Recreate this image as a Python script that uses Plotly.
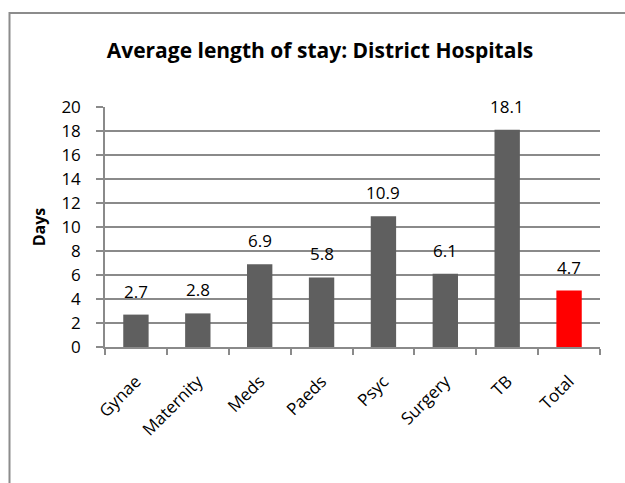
import plotly.graph_objects as go

# Average length of stay per ward (days)
wards = ["Gynae", "Maternity", "Meds", "Paeds", "Psyc", "Surgery", "TB", "Total"]
avg_stay_days = [2.7, 2.8, 6.9, 5.8, 10.9, 6.1, 18.1, 4.7]
bar_colors = ["#5f5f5f"] * 7 + ["#ff0000"]
y_ticks = list(range(0, 21, 2))

FONT = "Open Sans"
GRID = "#8a8a8a"

fig = go.Figure(
    go.Bar(
        x=wards,
        y=avg_stay_days,
        marker=dict(color=bar_colors, line=dict(width=0)),
        width=0.41,
        hoverinfo="x+y",
    )
)

# value labels above each bar
for ward, v in zip(wards, avg_stay_days):
    fig.add_annotation(
        x=ward,
        y=v,
        text=f"{v:.1f}",
        showarrow=False,
        xanchor="center",
        yanchor="bottom",
        yshift=10,
        font=dict(family=FONT, size=17, color="#000000"),
    )

fig.update_layout(
    width=625,
    height=483,
    margin=dict(l=105, r=25, t=107, b=136),
    paper_bgcolor="white",
    plot_bgcolor="white",
    showlegend=False,
    font=dict(family=FONT, size=17, color="#000000"),
    title=dict(
        text="<b>Average length of stay: District Hospitals</b>",
        x=320 / 625,
        xanchor="center",
        xref="container",
        y=1 - 51 / 483,
        yanchor="middle",
        font=dict(family=FONT, size=21, color="#000000"),
    ),
    xaxis=dict(
        type="category",
        tickson="boundaries",
        ticks="outside",
        ticklen=6,
        tickcolor=GRID,
        tickwidth=1.5,
        ticklabelstandoff=16,
        showline=True,
        linecolor=GRID,
        linewidth=1.5,
        tickangle=-45,
        tickfont=dict(family=FONT, size=17),
        showgrid=False,
    ),
    yaxis=dict(
        range=[0, 20],
        tickvals=y_ticks,
        ticks="outside",
        ticklen=7,
        tickcolor=GRID,
        tickwidth=1.5,
        ticklabelstandoff=12,
        showline=True,
        linecolor=GRID,
        linewidth=1.5,
        showgrid=True,
        gridcolor=GRID,
        gridwidth=1.5,
        zeroline=False,
        tickfont=dict(family=FONT, size=17),
        title=dict(text="<b>Days</b>", font=dict(family=FONT, size=16), standoff=12),
    ),
    shapes=[
        # chart-area border
        dict(
            type="rect",
            xref="paper",
            yref="paper",
            x0=(9.5 - 105) / 495,
            x1=1.2,
            y0=-1.0,
            y1=1 + (107 - 13) / 240,
            line=dict(color="#8c8c8c", width=2),
            fillcolor="rgba(0,0,0,0)",
            layer="below",
        )
    ],
)

fig.write_html("out.html")
